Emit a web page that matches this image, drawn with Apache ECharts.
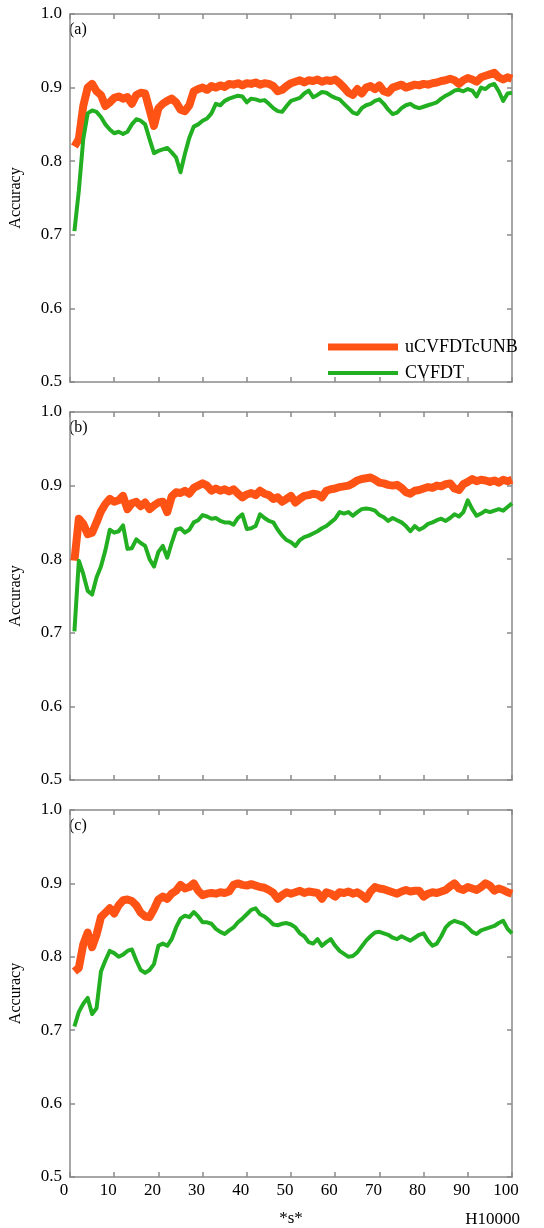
<!DOCTYPE html>
<html>
<head>
<meta charset="utf-8">
<script src="https://cdn.jsdelivr.net/npm/echarts@6/dist/echarts.min.js"></script>
<style>
  html, body { margin: 0; padding: 0; background: #fff; }
  #chart { width: 544px; height: 1228px; }
</style>
</head>
<body>
<div id="chart"></div>
<script>
// panel names, legend names
var panelNames = ['(a)', '(b)', '(c)'];
var seriesNames = ['uCVFDTcUNB', 'CVFDT'];

// x from 1 to 100 (unit: 10000 samples)
// panel (a)
var uA = [0.82, 0.83, 0.875, 0.9, 0.905, 0.895, 0.89, 0.875, 0.88, 0.886,
  0.888, 0.885, 0.887, 0.878, 0.89, 0.893, 0.892, 0.87, 0.848, 0.872,
  0.878, 0.882, 0.885, 0.88, 0.87, 0.868, 0.876, 0.895, 0.898, 0.9,
  0.897, 0.902, 0.9, 0.903, 0.901, 0.905, 0.904, 0.906, 0.903, 0.906,
  0.905, 0.907, 0.904, 0.906, 0.905, 0.902, 0.895, 0.897, 0.902, 0.906,
  0.908, 0.91, 0.907, 0.91, 0.909, 0.911, 0.908, 0.91, 0.909, 0.911,
  0.906, 0.9, 0.893, 0.89, 0.898, 0.892, 0.9, 0.902, 0.898, 0.903,
  0.895, 0.893, 0.9, 0.902, 0.904, 0.9, 0.902, 0.904, 0.903, 0.905,
  0.904, 0.906, 0.907, 0.909, 0.91, 0.912, 0.91, 0.905, 0.91, 0.913,
  0.911, 0.908, 0.914, 0.916, 0.918, 0.92, 0.914, 0.911, 0.914, 0.912];
var cA = [0.705, 0.76, 0.83, 0.865, 0.869, 0.867, 0.86, 0.85, 0.843, 0.838,
  0.84, 0.837, 0.84, 0.85, 0.857, 0.855, 0.85, 0.83, 0.811, 0.814,
  0.816, 0.818, 0.812, 0.805, 0.785, 0.81, 0.832, 0.847, 0.85, 0.855,
  0.858, 0.865, 0.878, 0.876, 0.882, 0.885, 0.887, 0.889, 0.888, 0.88,
  0.885, 0.884, 0.882, 0.883, 0.878, 0.872, 0.868, 0.867, 0.875, 0.882,
  0.884, 0.886, 0.892, 0.896, 0.887, 0.89, 0.894, 0.893, 0.889, 0.886,
  0.884, 0.878, 0.872, 0.866, 0.864, 0.872, 0.876, 0.878, 0.882, 0.884,
  0.878, 0.87, 0.864, 0.866, 0.872, 0.876, 0.878, 0.874, 0.872, 0.874,
  0.876, 0.878, 0.88, 0.885, 0.889, 0.892, 0.896, 0.897, 0.895, 0.898,
  0.896, 0.888, 0.9, 0.898, 0.903, 0.905, 0.895, 0.882, 0.892, 0.893];

// panel (b)
var uB = [0.798, 0.855, 0.848, 0.834, 0.836, 0.85, 0.865, 0.875, 0.882, 0.878,
  0.88, 0.886, 0.868, 0.876, 0.878, 0.872, 0.877, 0.868, 0.873, 0.877,
  0.878, 0.864, 0.885, 0.891, 0.89, 0.893, 0.889, 0.897, 0.9, 0.903,
  0.9, 0.893, 0.896, 0.893, 0.895, 0.892, 0.895, 0.889, 0.884, 0.888,
  0.89, 0.887, 0.893, 0.889, 0.887, 0.882, 0.884, 0.878, 0.882, 0.886,
  0.877, 0.882, 0.886, 0.887, 0.889, 0.888, 0.884, 0.893, 0.895, 0.896,
  0.898, 0.899, 0.9, 0.903, 0.907, 0.909, 0.91, 0.911, 0.908, 0.904,
  0.903, 0.901, 0.9, 0.901, 0.897, 0.891, 0.889, 0.893, 0.894, 0.896,
  0.898, 0.897, 0.9, 0.899, 0.902, 0.903, 0.896, 0.894, 0.902, 0.905,
  0.909, 0.906, 0.908, 0.907, 0.905, 0.907, 0.904, 0.908, 0.906, 0.908];
var cB = [0.702, 0.798, 0.78, 0.757, 0.752, 0.775, 0.79, 0.812, 0.84, 0.836,
  0.838, 0.846, 0.814, 0.815, 0.827, 0.822, 0.818, 0.8, 0.79, 0.81,
  0.818, 0.802, 0.822, 0.84, 0.842, 0.836, 0.84, 0.85, 0.853, 0.86,
  0.858, 0.855, 0.856, 0.852, 0.85, 0.85, 0.847, 0.856, 0.861, 0.841,
  0.842, 0.845, 0.861, 0.856, 0.852, 0.85, 0.84, 0.832, 0.826, 0.823,
  0.818, 0.826, 0.83, 0.832, 0.835, 0.838, 0.842, 0.845, 0.85, 0.855,
  0.864, 0.862, 0.864, 0.859, 0.864, 0.868, 0.869, 0.868, 0.866, 0.86,
  0.857, 0.852, 0.856, 0.853, 0.85, 0.845, 0.838, 0.845, 0.84, 0.843,
  0.848, 0.85, 0.853, 0.855, 0.852, 0.856, 0.861, 0.858, 0.864, 0.88,
  0.868, 0.859, 0.862, 0.866, 0.864, 0.866, 0.868, 0.866, 0.871, 0.876];

// panel (c)
var uC = [0.78, 0.785, 0.817, 0.833, 0.813, 0.83, 0.854, 0.86, 0.866, 0.859,
  0.87, 0.877, 0.878, 0.876, 0.87, 0.86, 0.855, 0.854, 0.865, 0.878,
  0.882, 0.879, 0.886, 0.89, 0.898, 0.893, 0.895, 0.9, 0.89, 0.884,
  0.886, 0.887, 0.886, 0.888, 0.887, 0.889, 0.898, 0.9, 0.898, 0.897,
  0.899, 0.897, 0.895, 0.894, 0.891, 0.887, 0.879, 0.884, 0.888, 0.886,
  0.888, 0.89, 0.887, 0.889, 0.888, 0.887, 0.879, 0.888, 0.886, 0.882,
  0.888, 0.887, 0.889, 0.886, 0.888, 0.884, 0.879, 0.889, 0.895, 0.893,
  0.892, 0.89, 0.888, 0.886, 0.889, 0.891, 0.889, 0.89, 0.89, 0.882,
  0.886, 0.888, 0.887, 0.889, 0.891, 0.896, 0.9, 0.893, 0.891, 0.895,
  0.893, 0.891, 0.895, 0.9, 0.897, 0.89, 0.893, 0.891, 0.888, 0.886];
var cC = [0.705, 0.725, 0.736, 0.744, 0.722, 0.73, 0.78, 0.795, 0.808, 0.805,
  0.8, 0.803, 0.808, 0.81, 0.795, 0.782, 0.778, 0.782, 0.79, 0.815,
  0.818, 0.815, 0.824, 0.84, 0.852, 0.856, 0.854, 0.861, 0.855, 0.847,
  0.847, 0.845, 0.838, 0.834, 0.831, 0.836, 0.84, 0.847, 0.852, 0.858,
  0.864, 0.866, 0.858, 0.855, 0.85, 0.844, 0.843, 0.845, 0.846, 0.844,
  0.84, 0.832, 0.828, 0.82, 0.818, 0.824, 0.815, 0.82, 0.824, 0.815,
  0.808, 0.804, 0.8, 0.801, 0.806, 0.814, 0.822, 0.828, 0.833, 0.834,
  0.832, 0.83, 0.826, 0.824, 0.828, 0.825, 0.822, 0.826, 0.83, 0.832,
  0.822, 0.815, 0.818, 0.828, 0.84, 0.846, 0.849, 0.847, 0.845, 0.84,
  0.834, 0.831, 0.836, 0.838, 0.84, 0.842, 0.846, 0.849, 0.838, 0.832];

var upper = [uA, uB, uC];
var lower = [cA, cB, cC];

var ORANGE = '#ff5316';
var GREEN = '#22b022';
var AXIS = '#8a8a8a';
var FONT = 'Liberation Serif';

var gridTops = [14, 412, 810];
var gridH = 368;

function toPairs(arr) {
  return arr.map(function(v, i) { return [i + 1, v]; });
}

var grids = [], xAxes = [], yAxes = [], series = [], graphics = [];

gridTops.forEach(function(top, p) {
  grids.push({ left: 68, right: 32, top: top, height: gridH });
  var last = p === gridTops.length - 1;
  // bottom x axis
  xAxes.push({
    type: 'value', gridIndex: p, min: 0, max: 100, interval: 10,
    axisLine: { onZero: false, lineStyle: { color: AXIS, width: 1.5 } },
    axisTick: { inside: true, length: 5, lineStyle: { color: AXIS, width: 1.5 } },
    axisLabel: { show: last, color: '#000', fontSize: 17, fontFamily: FONT, margin: 5, padding: [0, 12, 0, 0] },
    splitLine: { show: false },
    name: last ? '*s*' : '', nameLocation: 'middle', nameGap: 33,
    nameTextStyle: { color: '#000', fontSize: 17, fontFamily: FONT }
  });
  // top x axis (frame only)
  xAxes.push({
    type: 'value', gridIndex: p, position: 'top', min: 0, max: 100, interval: 10,
    axisLine: { onZero: false, lineStyle: { color: AXIS, width: 1.5 } },
    axisTick: { inside: true, length: 5, lineStyle: { color: AXIS, width: 1.5 } },
    axisLabel: { show: false }, splitLine: { show: false }
  });
  // left y axis
  yAxes.push({
    type: 'value', gridIndex: p, min: 0.5, max: 1.0, interval: 0.1,
    axisLine: { show: true, onZero: false, lineStyle: { color: AXIS, width: 1.5 } },
    axisTick: { show: true, inside: true, length: 5, lineStyle: { color: AXIS, width: 1.5 } },
    axisLabel: { color: '#000', fontSize: 17, fontFamily: FONT, margin: 8,
      formatter: function(v) { return v.toFixed(1); } },
    splitLine: { show: false },
    name: 'Accuracy', nameLocation: 'middle', nameRotate: 90, nameGap: 46,
    nameTextStyle: { color: '#000', fontSize: 16, fontFamily: FONT }
  });
  // right y axis (frame only)
  yAxes.push({
    type: 'value', gridIndex: p, position: 'right', min: 0.5, max: 1.0, interval: 0.1,
    axisLine: { show: true, onZero: false, lineStyle: { color: AXIS, width: 1.5 } },
    axisTick: { show: true, inside: true, length: 5, lineStyle: { color: AXIS, width: 1.5 } },
    axisLabel: { show: false }, splitLine: { show: false }
  });

  series.push({
    name: seriesNames[0], type: 'line', xAxisIndex: 2 * p, yAxisIndex: 2 * p,
    data: toPairs(upper[p]), showSymbol: false, symbol: 'none',
    lineStyle: { color: ORANGE, width: 8, join: 'round' }, itemStyle: { color: ORANGE }, z: 2
  });
  series.push({
    name: seriesNames[1], type: 'line', xAxisIndex: 2 * p, yAxisIndex: 2 * p,
    data: toPairs(lower[p]), showSymbol: false, symbol: 'none',
    lineStyle: { color: GREEN, width: 4, join: 'round' }, itemStyle: { color: GREEN }, z: 3
  });

  graphics.push({
    type: 'text', left: 69, top: top + 8,
    style: { text: panelNames[p], fill: '#000', fontSize: 16, fontFamily: FONT }
  });
});

graphics.push({
  type: 'text', right: 24, top: 1211,
  style: { text: 'H10000', fill: '#000', fontSize: 17, fontFamily: FONT }
});

var chart = echarts.init(document.getElementById('chart'));
chart.setOption({
  animation: false,
  backgroundColor: '#fff',
  textStyle: { fontFamily: FONT },
  grid: grids,
  xAxis: xAxes,
  yAxis: yAxes,
  legend: [{
    data: [seriesNames[0]], left: 323, top: 333, icon: 'rect',
    itemWidth: 70, itemHeight: 7,
    textStyle: { color: '#000', fontSize: 18, fontFamily: FONT, padding: [0, 0, 0, 2] }
  }, {
    data: [seriesNames[1]], left: 323, top: 359, icon: 'rect',
    itemWidth: 70, itemHeight: 4,
    textStyle: { color: '#000', fontSize: 18, fontFamily: FONT, padding: [0, 0, 0, 2] }
  }],
  series: series,
  graphic: graphics
});
</script>
</body>
</html>
